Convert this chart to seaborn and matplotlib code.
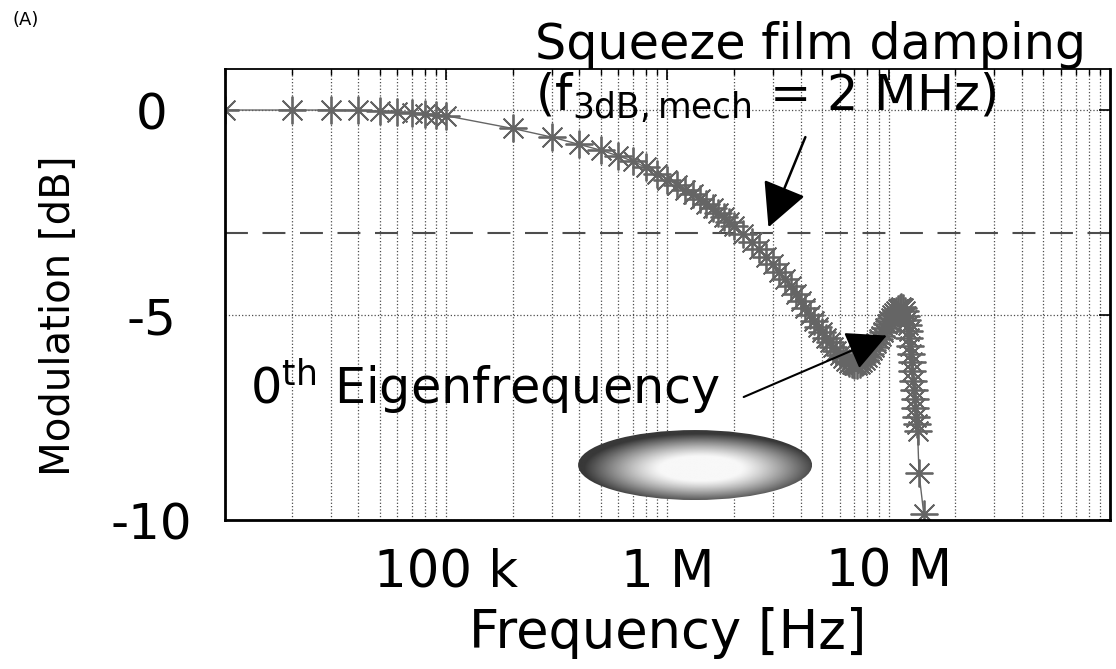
import numpy as np
import pandas as pd
import matplotlib
matplotlib.use("Agg")
import matplotlib.pyplot as plt
import seaborn as sns
from matplotlib.patches import Ellipse
from matplotlib.ticker import LogLocator, NullFormatter, FixedLocator, FixedFormatter

# --- data (frequency in Hz, modulation in dB) ---
FREQ_HZ = [
    10e3, 20e3, 30e3, 40e3, 50e3, 60e3, 70e3, 80e3, 90e3, 100e3,
    200e3, 300e3, 400e3, 500e3, 600e3, 700e3, 800e3, 900e3,
    1.0e6, 1.1e6, 1.2e6, 1.3e6, 1.4e6, 1.5e6, 1.6e6, 1.7e6, 1.8e6, 1.9e6,
    2.0e6, 2.2e6, 2.4e6, 2.6e6, 2.8e6, 3.0e6, 3.2e6, 3.4e6, 3.6e6, 3.8e6,
    4.0e6, 4.2e6, 4.4e6, 4.6e6, 4.8e6, 5.0e6, 5.2e6, 5.4e6, 5.6e6, 5.8e6,
    6.0e6, 6.2e6, 6.4e6, 6.6e6, 6.8e6, 7.0e6, 7.2e6, 7.4e6, 7.6e6, 7.8e6,
    8.0e6, 8.2e6, 8.4e6, 8.6e6, 8.8e6, 9.0e6, 9.2e6, 9.4e6, 9.6e6, 9.8e6,
    10.0e6, 10.2e6, 10.4e6, 10.6e6, 10.8e6, 11.0e6, 11.2e6, 11.4e6, 11.6e6, 11.8e6,
    12.0e6, 12.1e6, 12.2e6, 12.3e6, 12.4e6, 12.5e6, 12.6e6, 12.7e6, 12.8e6, 12.9e6,
    13.0e6, 13.1e6, 13.2e6, 13.3e6, 13.4e6, 13.5e6, 13.7e6, 14.4e6,
]
MOD_DB = [
    0.00, 0.00, 0.00, -0.01, -0.03, -0.05, -0.07, -0.09, -0.11, -0.14,
    -0.45, -0.66, -0.84, -0.98, -1.12, -1.25, -1.40, -1.55,
    -1.70, -1.82, -1.94, -2.06, -2.17, -2.28, -2.39, -2.50, -2.61, -2.72,
    -2.83, -3.03, -3.22, -3.40, -3.58, -3.76, -3.94, -4.12, -4.30, -4.48,
    -4.66, -4.83, -4.99, -5.14, -5.28, -5.42, -5.55, -5.67, -5.78, -5.88,
    -5.97, -6.05, -6.11, -6.16, -6.19, -6.21, -6.21, -6.19, -6.15, -6.10,
    -6.03, -5.95, -5.86, -5.77, -5.68, -5.59, -5.50, -5.41, -5.32, -5.23,
    -5.15, -5.07, -5.00, -4.94, -4.89, -4.85, -4.82, -4.81, -4.83, -4.90,
    -5.02, -5.12, -5.25, -5.40, -5.57, -5.75, -5.95, -6.15, -6.37, -6.60,
    -6.82, -7.05, -7.27, -7.48, -7.66, -7.82, -8.85, -9.85,
]

X_TICKS = [1e5, 1e6, 1e7]
X_TICK_LABELS = ["100 k", "1 M", "10 M"]
Y_TICKS = [-10, -5, 0]
Y_TICK_LABELS = ["-10", "-5", "0"]
F3DB_LEVEL = -3

sns.set_theme(style="white")
plt.rcParams["font.family"] = ["DejaVu Sans"]
plt.rcParams["mathtext.fontset"] = "dejavusans"
plt.rcParams["text.color"] = "black"
plt.rcParams["xtick.color"] = "black"
plt.rcParams["ytick.color"] = "black"
plt.rcParams["axes.labelcolor"] = "black"

df = pd.DataFrame({"freq": FREQ_HZ, "mod": MOD_DB})

fig = plt.figure(figsize=(11.16, 6.69), dpi=100)
ax = fig.add_axes([0.2016, 0.2227, 0.7930, 0.6741])

grey = "#656565"
sns.lineplot(data=df, x="freq", y="mod", ax=ax, color=grey, lw=1.0,
             marker=(8, 2, 0), markersize=20, mec=grey, mew=1.3,
             errorbar=None, sort=False)

ax.set_xscale("log")
ax.set_xlim(1e4, 1e8)
ax.set_ylim(-10, 1)

ax.xaxis.set_major_locator(FixedLocator(X_TICKS))
ax.xaxis.set_major_formatter(FixedFormatter(X_TICK_LABELS))
ax.xaxis.set_minor_locator(LogLocator(base=10, subs=np.arange(1, 10), numticks=20))
ax.xaxis.set_minor_formatter(NullFormatter())
ax.set_yticks(Y_TICKS)
ax.set_yticklabels(Y_TICK_LABELS)

ax.tick_params(axis="both", which="both", direction="in", top=True, right=True,
               color="black")
ax.tick_params(axis="both", which="major", length=8, width=1.2)
ax.tick_params(axis="x", which="minor", length=4, width=1.0)
ax.tick_params(axis="x", which="major", labelsize=37, pad=20)
ax.tick_params(axis="y", which="major", labelsize=36, pad=53)
for lbl in ax.get_yticklabels():
    lbl.set_horizontalalignment("center")

ax.grid(which="both", axis="x", linestyle=":", color="0.3", lw=0.9)
ax.grid(which="major", axis="y", linestyle=":", color="0.3", lw=0.9)
for side in ["left", "bottom", "right"]:
    ax.spines[side].set_color("black")
    ax.spines[side].set_linewidth(2.0)
ax.spines["top"].set_color("black")
ax.spines["top"].set_linewidth(1.3)

ax.axhline(F3DB_LEVEL, color="0.3", lw=1.5, linestyle=(0, (11, 7)), zorder=1)

ax.set_xlabel("Frequency [Hz]", fontsize=38)
ax.set_ylabel("Modulation [dB]", fontsize=29)
ax.xaxis.set_label_coords(0.5, -0.193)
ax.yaxis.set_label_coords(-0.165, 0.452)

# annotations
ax.text(0.35, 1.022, "Squeeze film damping", transform=ax.transAxes,
        fontsize=35.5, va="baseline", ha="left")
ax.text(0.35, 0.909, r"(f$_{\mathrm{3dB,mech}}$ = 2 MHz)", transform=ax.transAxes,
        fontsize=35.5, va="baseline", ha="left")
ax.annotate("", xy=(2.86e6, -2.86), xytext=(4.2e6, -0.66),
            arrowprops=dict(arrowstyle="-|>,head_length=0.55,head_width=0.28",
                            color="black", lw=1.8, mutation_scale=50,
                            shrinkA=0, shrinkB=0))

ax.text(0.028, 0.255, r"0$^{\mathrm{th}}$ Eigenfrequency", transform=ax.transAxes,
        fontsize=35.5, va="baseline", ha="left")
ax.annotate("", xy=(9.8e6, -5.5), xytext=(2.21e6, -7.0),
            arrowprops=dict(arrowstyle="-|>,head_length=0.5,head_width=0.25",
                            color="black", lw=1.5, mutation_scale=50,
                            shrinkA=0, shrinkB=0))

# membrane sketch: shaded ellipse
ins = ax.inset_axes([0.399, 0.0443, 0.2644, 0.1552])
gx, gy = np.meshgrid(np.linspace(-1, 1, 300), np.linspace(-1, 1, 120))
r = np.sqrt((gx - 0.05) ** 2 + (gy + 0.1) ** 2)
t = np.clip((r - 0.35) / 0.65, 0, 1)
shade = 0.97 - 0.75 * t ** 1.2
im = ins.imshow(shade, cmap="gray", vmin=0, vmax=1, extent=[-1, 1, -1, 1],
                aspect="auto", origin="lower", interpolation="bilinear")
clip = Ellipse((0, 0), 2, 2, transform=ins.transData, facecolor="none", edgecolor="none")
ins.add_patch(clip)
im.set_clip_path(clip)
ins.set_xlim(-1, 1)
ins.set_ylim(-1, 1)
ins.axis("off")

fig.text(0.011, 0.984, "(A)", fontsize=13, va="top", ha="left")

fig.savefig("out.png", dpi=100)
